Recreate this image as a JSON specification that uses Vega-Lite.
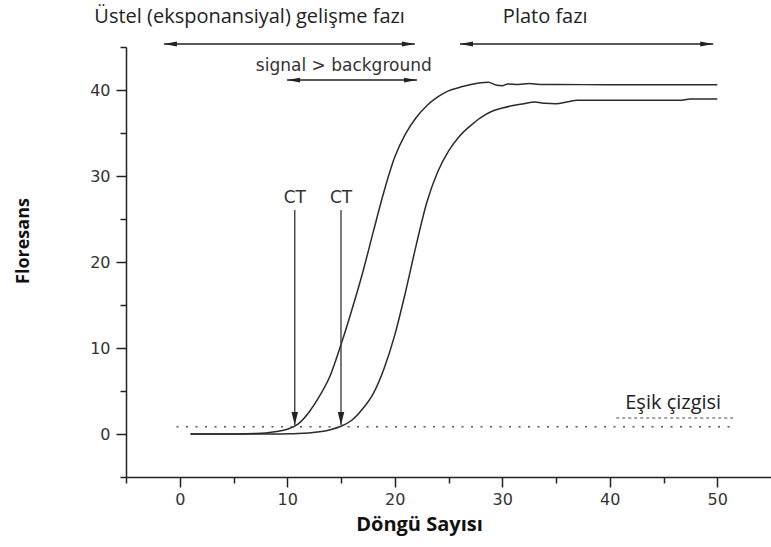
{
  "$schema": "https://vega.github.io/schema/vega-lite/v6.json",
  "width": 645,
  "height": 430,
  "autosize": "none",
  "padding": {"left": 126, "top": 47, "right": 0, "bottom": 70},
  "background": "white",
  "config": {"view": {"stroke": null}},
  "datasets": {
    "curves": [
      {"x": 1, "y": 0, "s": "A"}, {"x": 2, "y": 0, "s": "A"}, {"x": 3, "y": 0, "s": "A"}, {"x": 4, "y": 0, "s": "A"},
      {"x": 5, "y": 0, "s": "A"}, {"x": 6, "y": 0.02, "s": "A"}, {"x": 7, "y": 0.05, "s": "A"}, {"x": 8, "y": 0.12, "s": "A"},
      {"x": 9, "y": 0.28, "s": "A"}, {"x": 10, "y": 0.55, "s": "A"}, {"x": 11, "y": 1.15, "s": "A"}, {"x": 12, "y": 2.5, "s": "A"},
      {"x": 13, "y": 4.4, "s": "A"}, {"x": 14, "y": 6.8, "s": "A"}, {"x": 15, "y": 10.4, "s": "A"}, {"x": 16, "y": 14.4, "s": "A"},
      {"x": 17, "y": 18.7, "s": "A"}, {"x": 18, "y": 23.5, "s": "A"}, {"x": 19, "y": 28.2, "s": "A"}, {"x": 20, "y": 32.2, "s": "A"},
      {"x": 21, "y": 34.9, "s": "A"}, {"x": 22, "y": 36.8, "s": "A"}, {"x": 23, "y": 38.2, "s": "A"}, {"x": 24, "y": 39.2, "s": "A"},
      {"x": 25, "y": 39.9, "s": "A"}, {"x": 26, "y": 40.3, "s": "A"}, {"x": 27, "y": 40.6, "s": "A"}, {"x": 28, "y": 40.85, "s": "A"},
      {"x": 28.7, "y": 40.9, "s": "A"}, {"x": 29.5, "y": 40.55, "s": "A"}, {"x": 30, "y": 40.5, "s": "A"}, {"x": 30.5, "y": 40.7, "s": "A"},
      {"x": 31.5, "y": 40.65, "s": "A"}, {"x": 32.5, "y": 40.75, "s": "A"}, {"x": 33.5, "y": 40.65, "s": "A"}, {"x": 35, "y": 40.65, "s": "A"},
      {"x": 40, "y": 40.6, "s": "A"}, {"x": 45, "y": 40.6, "s": "A"}, {"x": 50, "y": 40.6, "s": "A"},
      {"x": 1, "y": 0, "s": "B"}, {"x": 3, "y": 0, "s": "B"}, {"x": 5, "y": 0, "s": "B"}, {"x": 7, "y": 0, "s": "B"},
      {"x": 9, "y": 0.01, "s": "B"}, {"x": 10, "y": 0.02, "s": "B"}, {"x": 11, "y": 0.05, "s": "B"}, {"x": 12, "y": 0.12, "s": "B"},
      {"x": 13, "y": 0.25, "s": "B"}, {"x": 14, "y": 0.5, "s": "B"}, {"x": 15, "y": 0.9, "s": "B"}, {"x": 16, "y": 1.6, "s": "B"},
      {"x": 17, "y": 2.9, "s": "B"}, {"x": 18, "y": 4.7, "s": "B"}, {"x": 19, "y": 7.6, "s": "B"}, {"x": 20, "y": 11.5, "s": "B"},
      {"x": 21, "y": 16.5, "s": "B"}, {"x": 22, "y": 22.0, "s": "B"}, {"x": 23, "y": 27.0, "s": "B"}, {"x": 24, "y": 30.5, "s": "B"},
      {"x": 25, "y": 32.9, "s": "B"}, {"x": 26, "y": 34.6, "s": "B"}, {"x": 27, "y": 35.8, "s": "B"}, {"x": 28, "y": 36.8, "s": "B"},
      {"x": 29, "y": 37.5, "s": "B"}, {"x": 30, "y": 37.9, "s": "B"}, {"x": 31, "y": 38.2, "s": "B"}, {"x": 32, "y": 38.4, "s": "B"},
      {"x": 33, "y": 38.6, "s": "B"}, {"x": 34, "y": 38.45, "s": "B"}, {"x": 35, "y": 38.4, "s": "B"}, {"x": 36, "y": 38.6, "s": "B"},
      {"x": 37, "y": 38.8, "s": "B"}, {"x": 40, "y": 38.8, "s": "B"}, {"x": 45, "y": 38.8, "s": "B"}, {"x": 46.5, "y": 38.8, "s": "B"},
      {"x": 47.5, "y": 38.95, "s": "B"}, {"x": 50, "y": 38.95, "s": "B"}
    ],
    "threshold": [{"x": -0.3, "x2": 51.6, "y": 0.85}],
    "threshold2": [{"x": 40.6, "x2": 51.6, "y": 1.86}],
    "harrows": [
      {"x": -1.47, "x2": 21.87, "y": 45.35},
      {"x": 26.07, "x2": 49.62, "y": 45.35},
      {"x": 9.98, "x2": 22.07, "y": 41.15}
    ],
    "varrows": [
      {"x": 10.7, "y": 26.05, "y2": 1.05},
      {"x": 15.0, "y": 26.05, "y2": 1.05}
    ],
    "heads": [
      {"x": -1.47, "y": 45.35, "dir": "l"}, {"x": 21.87, "y": 45.35, "dir": "r"},
      {"x": 26.07, "y": 45.35, "dir": "l"}, {"x": 49.62, "y": 45.35, "dir": "r"},
      {"x": 9.98, "y": 41.15, "dir": "l"}, {"x": 22.07, "y": 41.15, "dir": "r"},
      {"x": 10.7, "y": 1.05, "dir": "d"}, {"x": 15.0, "y": 1.05, "dir": "d"}
    ],
    "labelsA": [
      {"x": 6.5, "y": 48.5, "t": "Üstel (eksponansiyal) gelişme fazı"},
      {"x": 34.0, "y": 48.5, "t": "Plato fazı"},
      {"x": 45.9, "y": 3.64, "t": "Eşik çizgisi"}
    ],
    "labelsB": [
      {"x": 15.26, "y": 42.8, "t": "signal > background"},
      {"x": 10.7, "y": 27.45, "t": "CT"},
      {"x": 15.0, "y": 27.45, "t": "CT"}
    ]
  },
  "encoding": {
    "x": {
      "field": "x", "type": "quantitative",
      "scale": {"domain": [-5, 55], "nice": false, "zero": false},
      "axis": {
        "title": "Döngü Sayısı",
        "values": [-5, 0, 5, 10, 15, 20, 25, 30, 35, 40, 45, 50],
        "labelExpr": "datum.value >= 0 && datum.value % 10 === 0 ? datum.label : ''",
        "labelFont": "DejaVu Sans", "labelFontSize": 16, "labelColor": "#333",
        "labelPadding": 4, "labelOverlap": false, "labelFlush": false,
        "tickSize": {"condition": {"test": "datum.value >= 0 && datum.value % 10 === 0", "value": 10}, "value": 6},
        "tickColor": "#222", "tickWidth": 1.5,
        "domainColor": "#222", "domainWidth": 1.5,
        "grid": false,
        "titleFont": "Open Sans", "titleFontWeight": "bold", "titleFontSize": 20, "titleColor": "#111",
        "titleX": 293, "titleY": 47, "titleBaseline": "middle", "titleAlign": "center"
      }
    },
    "y": {
      "field": "y", "type": "quantitative",
      "scale": {"domain": [-5, 45], "nice": false, "zero": false},
      "axis": {
        "title": "Floresans",
        "values": [-5, 0, 5, 10, 15, 20, 25, 30, 35, 40, 45],
        "labelExpr": "datum.value >= 0 && datum.value % 10 === 0 ? datum.label : ''",
        "labelFont": "DejaVu Sans", "labelFontSize": 16, "labelColor": "#333",
        "labelPadding": 6, "labelOverlap": false, "labelFlush": false,
        "tickSize": {"condition": {"test": "datum.value >= 0 && datum.value % 10 === 0", "value": 10}, "value": 6},
        "tickColor": "#222", "tickWidth": 1.5,
        "domainColor": "#222", "domainWidth": 1.5,
        "grid": false,
        "titleFont": "Open Sans", "titleFontWeight": "bold", "titleFontSize": 18, "titleColor": "#111",
        "titleX": -102.7, "titleY": 193.5, "titleAngle": -90, "titleBaseline": "middle", "titleAlign": "center"
      }
    }
  },
  "layer": [
    {
      "data": {"name": "curves"},
      "mark": {"type": "line", "color": "#2b2b2b", "strokeWidth": 1.5, "interpolate": "monotone"},
      "encoding": {"detail": {"field": "s", "type": "nominal"}}
    },
    {
      "data": {"name": "threshold"},
      "mark": {"type": "rule", "color": "#555", "strokeWidth": 1.6, "strokeDash": [2, 7.5]},
      "encoding": {"x2": {"field": "x2"}}
    },
    {
      "data": {"name": "threshold2"},
      "mark": {"type": "rule", "color": "#888", "strokeWidth": 1.5, "strokeDash": [3, 3]},
      "encoding": {"x2": {"field": "x2"}}
    },
    {
      "data": {"name": "harrows"},
      "mark": {"type": "rule", "color": "#222", "strokeWidth": 1.5},
      "encoding": {"x2": {"field": "x2"}}
    },
    {
      "data": {"name": "varrows"},
      "mark": {"type": "rule", "color": "#333", "strokeWidth": 1.3},
      "encoding": {"y2": {"field": "y2"}}
    },
    {
      "data": {"name": "heads"},
      "mark": {"type": "point", "filled": true, "color": "#222", "opacity": 1, "size": 169},
      "encoding": {
        "shape": {
          "field": "dir", "type": "nominal",
          "scale": {"domain": ["l", "r", "d"], "range": ["M0,0L2,-0.38L2,0.38Z", "M0,0L-2,-0.38L-2,0.38Z", "M0,0L-0.5,-2L0.5,-2Z"]},
          "legend": null
        }
      }
    },
    {
      "data": {"name": "labelsA"},
      "mark": {"type": "text", "font": "Open Sans", "fontSize": 20, "color": "#222", "align": "center", "baseline": "middle"},
      "encoding": {"text": {"field": "t"}}
    },
    {
      "data": {"name": "labelsB"},
      "mark": {"type": "text", "font": "DejaVu Sans", "fontSize": 17, "color": "#333", "align": "center", "baseline": "middle"},
      "encoding": {"text": {"field": "t"}}
    }
  ]
}
